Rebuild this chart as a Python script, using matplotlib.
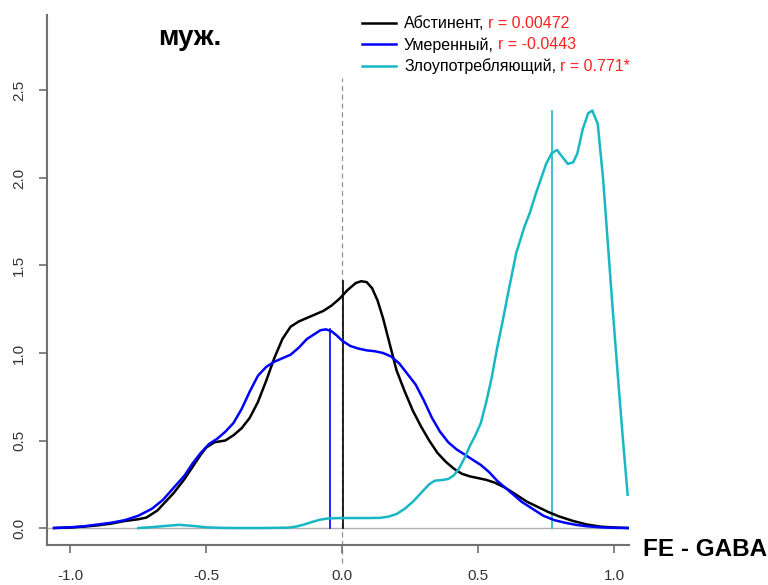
import numpy as np
import matplotlib
matplotlib.use('Agg')
import matplotlib.pyplot as plt

plt.rcParams['font.family'] = ['Liberation Sans', 'DejaVu Sans']

# Density curves
abst_x = [-1.06, -1.0, -0.95, -0.9, -0.85, -0.8, -0.75, -0.72, -0.68, -0.65, -0.62, -0.58,
          -0.55, -0.52, -0.5, -0.47, -0.43, -0.4, -0.37, -0.34, -0.31, -0.28, -0.25, -0.22,
          -0.19, -0.16, -0.13, -0.1, -0.07, -0.04, -0.01, 0.02, 0.05, 0.07, 0.09, 0.11,
          0.13, 0.15, 0.17, 0.2, 0.23, 0.26, 0.29, 0.32, 0.35, 0.38, 0.41, 0.44, 0.47,
          0.5, 0.53, 0.56, 0.6, 0.64, 0.68, 0.72, 0.76, 0.8, 0.85, 0.9, 0.95, 1.0, 1.055]
abst_y = [0.0, 0.003, 0.008, 0.015, 0.025, 0.04, 0.05, 0.06, 0.1, 0.15, 0.2, 0.28,
          0.35, 0.42, 0.46, 0.49, 0.5, 0.53, 0.57, 0.63, 0.72, 0.84, 0.97, 1.08,
          1.15, 1.18, 1.2, 1.22, 1.24, 1.27, 1.31, 1.36, 1.4, 1.41, 1.405, 1.37,
          1.3, 1.2, 1.08, 0.9, 0.78, 0.67, 0.58, 0.5, 0.43, 0.38, 0.34, 0.31, 0.295,
          0.285, 0.275, 0.26, 0.23, 0.19, 0.15, 0.12, 0.09, 0.065, 0.04, 0.02, 0.008, 0.003, 0.0]

mod_x = [-1.06, -1.0, -0.95, -0.9, -0.85, -0.8, -0.75, -0.7, -0.66, -0.62, -0.58, -0.55,
         -0.52, -0.49, -0.46, -0.43, -0.4, -0.37, -0.34, -0.31, -0.28, -0.25, -0.22, -0.19,
         -0.16, -0.13, -0.1, -0.08, -0.06, -0.04, -0.02, 0.0, 0.03, 0.06, 0.09, 0.12,
         0.15, 0.18, 0.21, 0.24, 0.27, 0.3, 0.33, 0.36, 0.39, 0.42, 0.45, 0.48, 0.51,
         0.54, 0.57, 0.6, 0.63, 0.66, 0.7, 0.74, 0.78, 0.82, 0.86, 0.9, 0.95, 1.0, 1.055]
mod_y = [0.0, 0.004, 0.01, 0.02, 0.03, 0.045, 0.07, 0.11, 0.16, 0.23, 0.3, 0.37,
         0.43, 0.48, 0.51, 0.55, 0.6, 0.68, 0.78, 0.87, 0.92, 0.95, 0.97, 0.99,
         1.03, 1.08, 1.11, 1.13, 1.135, 1.125, 1.1, 1.07, 1.04, 1.025, 1.015, 1.01,
         1.0, 0.98, 0.94, 0.88, 0.82, 0.73, 0.63, 0.55, 0.49, 0.45, 0.42, 0.39, 0.36,
         0.32, 0.27, 0.23, 0.19, 0.15, 0.11, 0.07, 0.045, 0.03, 0.018, 0.01, 0.004, 0.001, 0.0]

abuse_x = [-0.75, -0.7, -0.65, -0.6, -0.55, -0.5, -0.45, -0.4, -0.3, -0.2, -0.17, -0.14,
           -0.11, -0.08, -0.05, 0.0, 0.05, 0.1, 0.14, 0.17, 0.2, 0.23, 0.26, 0.29, 0.32,
           0.34, 0.37, 0.39, 0.41, 0.43, 0.45, 0.47, 0.49, 0.51, 0.53, 0.55, 0.57, 0.59,
           0.61, 0.64, 0.67, 0.69, 0.71, 0.73, 0.75, 0.77, 0.79, 0.81, 0.83, 0.85, 0.865,
           0.885, 0.905, 0.92, 0.94, 0.96, 0.978, 0.996, 1.015, 1.033, 1.05]
abuse_y = [0.0, 0.005, 0.012, 0.018, 0.012, 0.004, 0.001, 0.0, 0.0, 0.002, 0.008, 0.02,
           0.035, 0.048, 0.055, 0.057, 0.057, 0.057, 0.058, 0.065, 0.08, 0.11, 0.15, 0.2, 0.25,
           0.27, 0.275, 0.28, 0.3, 0.34, 0.4, 0.47, 0.53, 0.6, 0.72, 0.86, 1.03, 1.18,
           1.34, 1.57, 1.72, 1.8, 1.9, 1.99, 2.08, 2.14, 2.16, 2.12, 2.08, 2.09, 2.14,
           2.28, 2.37, 2.385, 2.31, 1.99, 1.61, 1.23, 0.85, 0.5, 0.19]

group_names = ['Абстинент,', 'Умеренный,', 'Злоупотребляющий,']
group_r = ['r = 0.00472', 'r = -0.0443', 'r = 0.771*']
r_values = [0.00472, -0.0443, 0.771]
colors = ['black', '#0000FF', '#17B8C4']

fig = plt.figure(figsize=(7.68, 5.85), dpi=100)
ax = fig.add_axes([0.0612, 0.0684, 0.7578, 0.9056])

curves = [(abst_x, abst_y), (mod_x, mod_y), (abuse_x, abuse_y)]
handles = []
for (cx, cy), col in zip(curves, colors):
    ln, = ax.plot(cx, cy, color=col, lw=1.8, zorder=3)
    handles.append(ln)

# zero line and dashed reference at x = 0
ax.axhline(0, color='#b0b0b0', lw=1, zorder=1)
ax.plot([0, 0], [-0.2, 2.57], color='#909090', lw=0.9, ls=(0, (4, 3)),
        clip_on=False, zorder=1)

# r markers up to each curve's peak
for r, (cx, cy), col in zip(r_values, curves, colors):
    ax.plot([r, r], [0, max(cy)], color=col, lw=1.2, zorder=2)

ax.set_xlim(-1.086, 1.055)
ax.set_ylim(-0.097, 2.93)
ax.set_xticks([-1.0, -0.5, 0.0, 0.5, 1.0])
ax.set_yticks([0.0, 0.5, 1.0, 1.5, 2.0, 2.5])
ax.set_xticklabels(['-1.0', '-0.5', '0.0', '0.5', '1.0'])
ax.set_yticklabels(['0.0', '0.5', '1.0', '1.5', '2.0', '2.5'], rotation=90, va='center')
for s in ['top', 'right']:
    ax.spines[s].set_visible(False)
for s in ['left', 'bottom']:
    ax.spines[s].set_color('#707070')
    ax.spines[s].set_linewidth(1.5)
ax.tick_params(axis='both', colors='#707070', labelcolor='#333333', length=6,
               width=1.2, labelsize=11)
ax.tick_params(axis='x', pad=11)
ax.tick_params(axis='y', pad=9)

fig.text(0.247, 0.935, 'муж.', fontsize=20, fontweight='bold', ha='center', va='center')
fig.text(0.837, 0.06, 'FE - GABA', fontsize=17.5, fontweight='bold', ha='left', va='center')

leg = fig.legend(handles, group_names, loc='upper left', bbox_to_anchor=(0.472, 0.972),
                 frameon=False, fontsize=11.5, handlelength=2.1, handletextpad=0.5,
                 labelspacing=0.36, borderaxespad=0, borderpad=0)

# red r values appended after the group names
fig.canvas.draw()
renderer = fig.canvas.get_renderer()
for txt, rtxt in zip(leg.get_texts(), group_r):
    bb = txt.get_window_extent(renderer)
    fig.text((bb.x1 + 4) / fig.bbox.width, (bb.y0 + bb.y1) / 2 / fig.bbox.height,
             rtxt, color='#FF2020', fontsize=11.5, ha='left', va='center')

fig.savefig('out.png', dpi=100)
